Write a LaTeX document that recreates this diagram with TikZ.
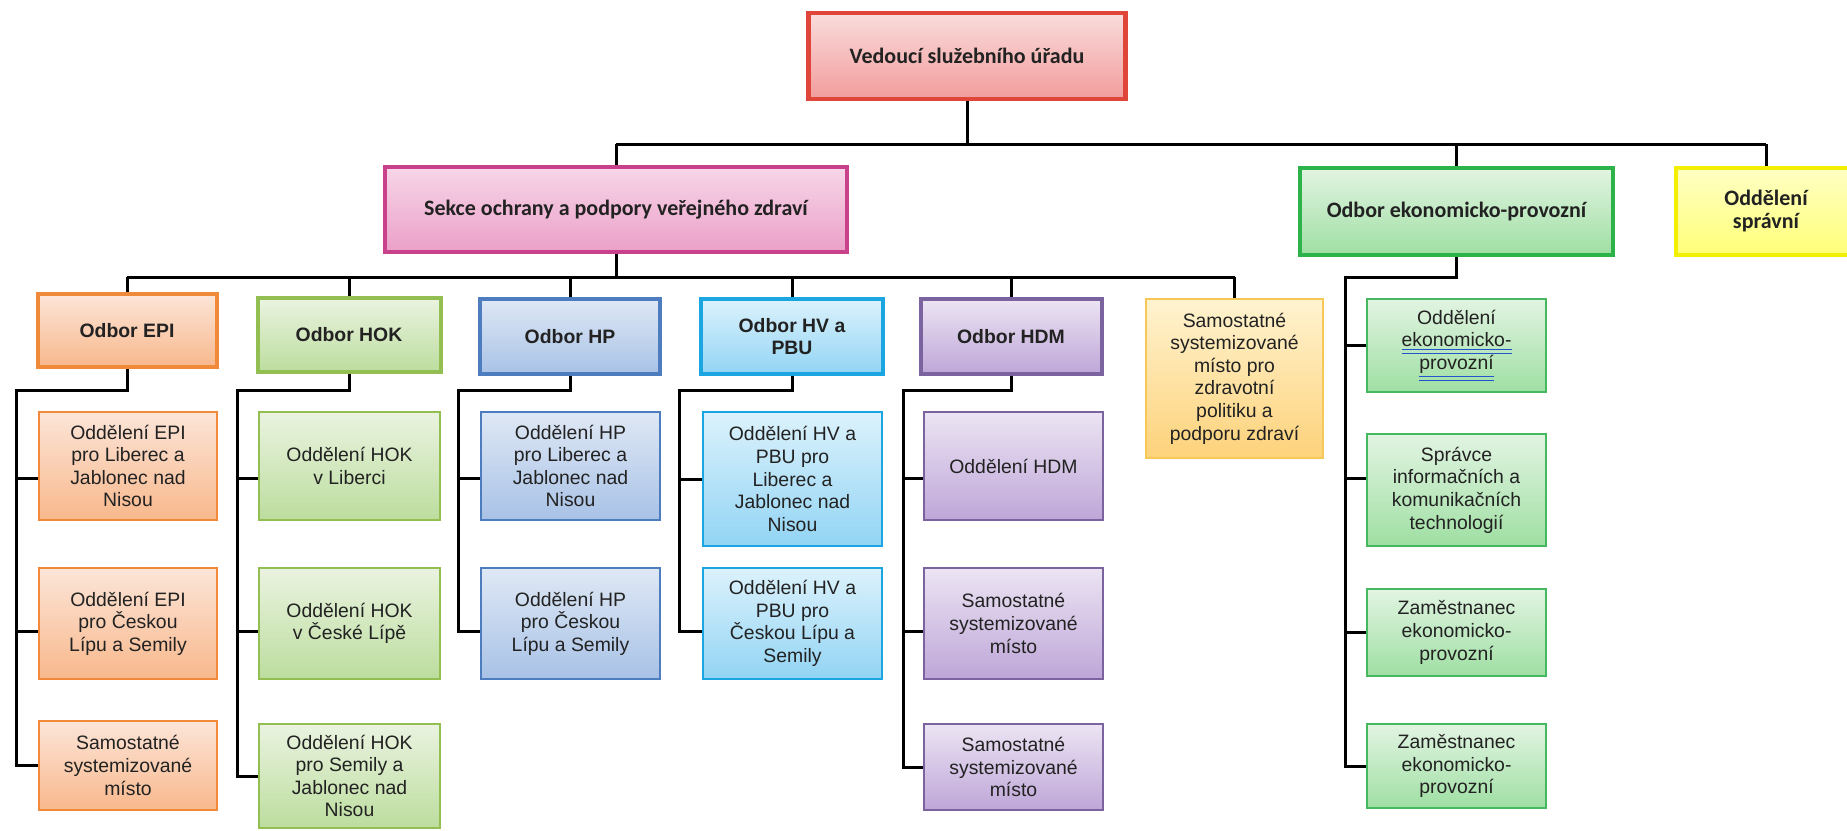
\documentclass[tikz,border=0pt]{standalone}
\usepackage{fontspec}
\setmainfont{Liberation Sans}
\newfontfamily\calib{Carlito}
\usetikzlibrary{calc}
\definecolor{txt}{HTML}{222222}
\definecolor{linkblue}{HTML}{2255CC}
% colours
\definecolor{redB}{HTML}{E0453A}\definecolor{redT}{HTML}{FADCDC}\definecolor{redD}{HTML}{F29C9C}
\definecolor{pinkB}{HTML}{C8418A}\definecolor{pinkT}{HTML}{F7D6E8}\definecolor{pinkD}{HTML}{EBA0C8}
\definecolor{grnB}{HTML}{2DB34A}\definecolor{grnT}{HTML}{E2F4E2}\definecolor{grnD}{HTML}{9FDFA3}
\definecolor{yelB}{HTML}{F2F000}\definecolor{yelT}{HTML}{FFFFC4}\definecolor{yelD}{HTML}{FFFF78}
\definecolor{epiB}{HTML}{F08A3A}\definecolor{epiT}{HTML}{FCE5D8}\definecolor{epiD}{HTML}{F8B88C}
\definecolor{hokB}{HTML}{92BE52}\definecolor{hokT}{HTML}{EAF3E0}\definecolor{hokD}{HTML}{BCDD9E}
\definecolor{hpB}{HTML}{4D7DBE}\definecolor{hpT}{HTML}{DFE8F5}\definecolor{hpD}{HTML}{A8C2E6}
\definecolor{hvB}{HTML}{1BA6E2}\definecolor{hvT}{HTML}{DCF2FC}\definecolor{hvD}{HTML}{92D4F4}
\definecolor{hdmB}{HTML}{7B63A0}\definecolor{hdmT}{HTML}{ECE4F3}\definecolor{hdmD}{HTML}{BEA6D8}
\definecolor{zdrB}{HTML}{F5C858}\definecolor{zdrT}{HTML}{FFF3D0}\definecolor{zdrD}{HTML}{FDD27A}
\definecolor{ekcB}{HTML}{46B860}
\newcommand\ulink[1]{{\color{linkblue}\underline{\underline{\color{txt}#1}}}}
\begin{document}
\begin{tikzpicture}[x=0.5pt,y=-0.5pt,
  sz/.style 2 args={minimum width=#1*0.5pt, minimum height=#2*0.5pt},
  base/.style={rectangle, inner sep=1pt, align=center, text=txt},
  topbox/.style={base, line width=2.3pt, font=\calib\bfseries\fontsize{11}{11.5}\selectfont},
  odbor/.style={base, line width=2pt, font=\bfseries\fontsize{9.7}{11.3}\selectfont},
  child/.style={base, line width=0.8pt, font=\fontsize{9.7}{11.3}\selectfont},
  conn/.style={line width=1.5pt, draw=black},
  cRed/.style={draw=redB, top color=redT, bottom color=redD},
  cPink/.style={draw=pinkB, top color=pinkT, bottom color=pinkD},
  cGrn/.style={draw=grnB, top color=grnT, bottom color=grnD},
  cYel/.style={draw=yelB, top color=yelT, bottom color=yelD},
  cEpi/.style={draw=epiB, top color=epiT, bottom color=epiD},
  cHok/.style={draw=hokB, top color=hokT, bottom color=hokD},
  cHp/.style={draw=hpB, top color=hpT, bottom color=hpD},
  cHv/.style={draw=hvB, top color=hvT, bottom color=hvD},
  cHdm/.style={draw=hdmB, top color=hdmT, bottom color=hdmD},
  cZdr/.style={draw=zdrB, top color=zdrT, bottom color=zdrD},
  cEkc/.style={draw=ekcB, top color=grnT, bottom color=grnD},
]
\fill[white] (0,0) rectangle (1847,830);
\useasboundingbox (0,0) rectangle (1847,830);

% level 0 and 1
\node[topbox, cRed, sz={317}{86}] (top) at (967,56) {Vedoucí služebního úřadu};
\node[topbox, cPink, sz={462}{85}] (sekce) at (616,209.5) {Sekce ochrany a podpory veřejného zdraví};
\node[topbox, cGrn, sz={313}{87}] (eko) at (1456.5,211.5) {Odbor ekonomicko-provozní};
\node[topbox, cYel, sz={180}{87}] (spr) at (1766,211.5) {Oddělení\\správní};

% level 2
\node[odbor, cEpi, sz={179}{73}] (epi) at (127,330.5) {Odbor EPI};
\node[odbor, cHok, sz={183}{74}] (hok) at (349,335) {Odbor HOK};
\node[odbor, cHp, sz={180}{75}] (hp) at (570,336.5) {Odbor HP};
\node[odbor, cHv, sz={182}{75}] (hv) at (792,336.5) {Odbor HV a\\PBU};
\node[odbor, cHdm, sz={181}{75}] (hdm) at (1011,336.5) {Odbor HDM};
\node[child, cZdr, sz={177}{159}] (zdr) at (1234.5,378.5) {Samostatné\\systemizované\\místo pro\\zdravotní\\politiku a\\podporu zdraví};

% level 3
\node[child, cEpi, sz={178}{108}] (epi1) at (128,466) {Oddělení EPI\\pro Liberec a\\Jablonec nad\\Nisou};
\node[child, cEpi, sz={178}{111}] (epi2) at (128,623.5) {Oddělení EPI\\pro Českou\\Lípu a Semily};
\node[child, cEpi, sz={178}{89}] (epi3) at (128,765.5) {Samostatné\\systemizované\\místo};

\node[child, cHok, sz={181}{108}] (hok1) at (349.5,466) {Oddělení HOK\\v Liberci};
\node[child, cHok, sz={181}{111}] (hok2) at (349.5,623.5) {Oddělení HOK\\v České Lípě};
\node[child, cHok, sz={181}{104}] (hok3) at (349.5,776) {Oddělení HOK\\pro Semily a\\Jablonec nad\\Nisou};

\node[child, cHp, sz={179}{108}] (hp1) at (570.5,466) {Oddělení HP\\pro Liberec a\\Jablonec nad\\Nisou};
\node[child, cHp, sz={179}{111}] (hp2) at (570.5,623.5) {Oddělení HP\\pro Českou\\Lípu a Semily};

\node[child, cHv, sz={179}{134}] (hv1) at (792.5,479) {Oddělení HV a\\PBU pro\\Liberec a\\Jablonec nad\\Nisou};
\node[child, cHv, sz={179}{111}] (hv2) at (792.5,623.5) {Oddělení HV a\\PBU pro\\Českou Lípu a\\Semily};

\node[child, cHdm, sz={179}{108}] (hdm1) at (1013.5,466) {Oddělení HDM};
\node[child, cHdm, sz={179}{111}] (hdm2) at (1013.5,623.5) {Samostatné\\systemizované\\místo};
\node[child, cHdm, sz={179}{86}] (hdm3) at (1013.5,767) {Samostatné\\systemizované\\místo};

\node[child, cEkc, sz={179}{93}] (ek1) at (1456.5,345.5) {Oddělení\\\ulink{ekonomicko-}\\\ulink{provozní}};
\node[child, cEkc, sz={179}{112}] (ek2) at (1456.5,490) {Správce\\informačních a\\komunikačních\\technologií};
\node[child, cEkc, sz={179}{87}] (ek3) at (1456.5,632.5) {Zaměstnanec\\ekonomicko-\\provozní};
\node[child, cEkc, sz={179}{84}] (ek4) at (1456.5,766) {Zaměstnanec\\ekonomicko-\\provozní};

% connection points on the children's left sides
\foreach \c in {epi1,hok1,hp1,hdm1} \coordinate (\c p) at ([yshift=-6pt]\c.west);
\foreach \c in {epi2,hok2,hp2,hv2,hdm2} \coordinate (\c p) at ([yshift=-4pt]\c.west);
\foreach \c in {epi3,hok3,hv1,hdm3,ek1,ek3,ek4} \coordinate (\c p) at (\c.west);
\coordinate (ek2p) at ([yshift=6pt]ek2.west);

% connectors: level 0 -> 1
\coordinate (b1) at (0,144);
\coordinate (b2) at (0,277);
\draw[conn] (top.south) -- (top.south |- b1);
\draw[conn] (sekce.north |- b1) -- (spr.north |- b1);
\foreach \n in {sekce,eko,spr} \draw[conn] (\n.north) -- (\n.north |- b1);

% level 1 -> 2
\draw[conn] (sekce.south) -- (sekce.south |- b2);
\draw[conn] (epi.north |- b2) -- (zdr.north |- b2);
\foreach \n in {epi,hok,hp,hv,hdm,zdr} \draw[conn] (\n.north) -- (\n.north |- b2);

% level 2 -> 3
\coordinate (epiC) at (16,390);
\coordinate (hokC) at (237,390);
\coordinate (hpC) at (458,390);
\coordinate (hvC) at (679,390);
\coordinate (hdmC) at (903,390);
\coordinate (ekC) at (1345,277);

\draw[conn] (epi.south) |- (epiC) |- (epi3p);
\foreach \c in {epi1,epi2} \draw[conn] (epiC |- \c p) -- (\c p);
\draw[conn] (hok.south) |- (hokC) |- (hok3p);
\foreach \c in {hok1,hok2} \draw[conn] (hokC |- \c p) -- (\c p);
\draw[conn] (hp.south) |- (hpC) |- (hp2p);
\draw[conn] (hpC |- hp1p) -- (hp1p);
\draw[conn] (hv.south) |- (hvC) |- (hv2p);
\draw[conn] (hvC |- hv1p) -- (hv1p);
\draw[conn] (hdm.south) |- (hdmC) |- (hdm3p);
\foreach \c in {hdm1,hdm2} \draw[conn] (hdmC |- \c p) -- (\c p);
\draw[conn] (eko.south) |- (ekC) |- (ek4p);
\foreach \c in {ek1,ek2,ek3} \draw[conn] (ekC |- \c p) -- (\c p);
\end{tikzpicture}
\end{document}
